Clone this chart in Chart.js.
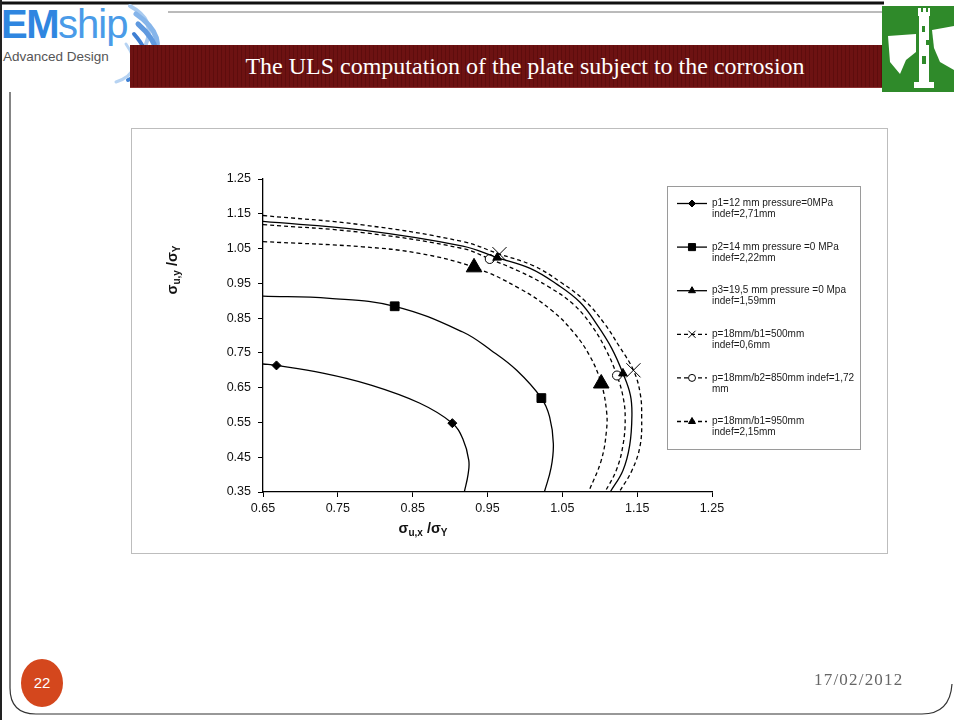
<!DOCTYPE html>
<html>
<head>
<meta charset="utf-8">
<script src="https://cdn.jsdelivr.net/npm/chart.js@4.4.1/dist/chart.umd.min.js"></script>
<style>
  html, body { margin: 0; padding: 0; background: #fff; }
  #page { position: relative; width: 954px; height: 720px; overflow: hidden; font-family: "Liberation Sans", Arial, sans-serif; }
  #deco { position: absolute; left: 0; top: 0; }
  #band { position: absolute; left: 130px; top: 45px; width: 752px; height: 42px;
          background: repeating-linear-gradient(90deg, #6d1212 0px, #6d1212 3px, #5e0d0d 3px, #5e0d0d 4px);
          border-bottom: 1px solid #8a3030; }
  #slideTitle { position: absolute; left: 130px; top: 53px; width: 790px; text-align: center;
          font-family: "Liberation Serif", "Times New Roman", serif; font-size: 24px; color: #fff; white-space: nowrap; }
  #logoText { position: absolute; left: 1px; top: 2px; line-height: 44px; }
  #logoText .em { font-size: 40px; font-weight: bold; color: #2f86e0; letter-spacing: -1.5px; }
  #logoText .ship { font-size: 40px; color: #4a9be8; letter-spacing: -1px; }
  #logoSub { position: absolute; left: 3px; top: 49px; font-size: 13.5px; color: #555; }
  #panel { position: absolute; left: 131px; top: 128px; width: 755px; height: 424px; border: 1px solid #bdbdbd; background: #fff; }
  #chart { position: absolute; left: 0; top: 0; }
  .axTitle { position: absolute; font-weight: bold; font-size: 14.5px; color: #111; white-space: nowrap;
             width: 160px; text-align: center; line-height: 18px; }
  .axTitle sub { font-size: 10px; vertical-align: -3px; }
  #xTitle { left: 343px; top: 519px; }
  #yTitle { left: 92px; top: 261px; transform: rotate(-90deg); transform-origin: 80px 9px; }
  #pageNum { position: absolute; left: 21px; top: 659px; width: 42px; height: 48px; border-radius: 50%;
             background: #d4471d; color: #fff; font-size: 15px; text-align: center; line-height: 48px; }
  #date { position: absolute; left: 814px; top: 670px; font-family: "Liberation Serif", "Times New Roman", serif;
          font-size: 17px; color: #666; letter-spacing: 1.2px; }
</style>
</head>
<body>
<div id="page">
  <svg id="deco" width="954" height="720">
    <!-- slide frame -->
    <line x1="0" y1="3" x2="884" y2="3" stroke="#111" stroke-width="3"/>
    <line x1="168" y1="12" x2="884" y2="12" stroke="#777" stroke-width="1"/>
    <line x1="1" y1="0" x2="1" y2="720" stroke="#222" stroke-width="2"/>
    <path d="M10 92 L10 688 Q10 714 36 714 L922 714 Q950 714 952 684" fill="none" stroke="#333" stroke-width="1.2"/>
    <!-- swoosh of the logo -->
    <g fill="none" stroke-linecap="round">
      <path d="M130 6 Q156 20 146 44" stroke="#a9cbf0" stroke-width="4"/>
      <path d="M136 14 Q168 36 152 62" stroke="#86b5ea" stroke-width="5"/>
      <path d="M138 24 Q170 52 146 74" stroke="#5f99df" stroke-width="5"/>
      <path d="M134 34 Q162 66 128 80" stroke="#3f7fd2" stroke-width="4"/>
      <path d="M126 44 Q146 72 116 82" stroke="#b7d3f2" stroke-width="3"/>
    </g>
    <!-- emblem -->
    <rect x="882" y="6" width="72" height="86" fill="#2f8a2a"/>
    <g fill="#fff">
      <rect x="918" y="12" width="12" height="4"/>
      <rect x="918" y="8" width="3" height="5"/><rect x="923" y="8" width="3" height="5"/><rect x="928" y="8" width="2" height="5"/>
      <rect x="919" y="16" width="10" height="70"/>
      <polygon points="888,36 916,34 916,52 906,60 900,74 890,62"/>
      <polygon points="932,30 954,26 954,70 940,62 934,48"/>
      <rect x="914" y="82" width="20" height="6"/>
    </g>
    <g fill="#2f8a2a">
      <rect x="922" y="26" width="3" height="6"/><rect x="922" y="56" width="4" height="8"/>
      <rect x="926" y="40" width="3" height="5"/>
    </g>
  </svg>
  <div id="band"></div>
  <div id="slideTitle">The ULS computation of the plate subject to the corrosion</div>
  <div id="logoText"><span class="em">EM</span><span class="ship">ship</span></div>
  <div id="logoSub">Advanced Design</div>
  <div id="panel"></div>
  <canvas id="chart" width="954" height="720"></canvas>
  <div id="xTitle" class="axTitle">σ<sub>u,x</sub> /σ<sub>Y</sub></div>
  <div id="yTitle" class="axTitle">σ<sub>u,y</sub> /σ<sub>Y</sub></div>
  <div id="pageNum">22</div>
  <div id="date">17/02/2012</div>
</div>

<script>
// Axis ticks
const xTicks = [0.65, 0.75, 0.85, 0.95, 1.05, 1.15, 1.25];
const yTicks = [0.35, 0.45, 0.55, 0.65, 0.75, 0.85, 0.95, 1.05, 1.15, 1.25];

// Series names (two lines each in the legend)
const seriesLabels = [
  'p1=12 mm pressure=0MPa\nindef=2,71mm',
  'p2=14 mm pressure =0 MPa\nindef=2,22mm',
  'p3=19,5 mm pressure =0 Mpa\nindef=1,59mm',
  'p=18mm/b1=500mm\nindef=0,6mm',
  'p=18mm/b2=850mm indef=1,72\nmm',
  'p=18mm/b1=950mm\nindef=2,15mm'
];

// Ultimate strength interaction curves (σu,x/σY , σu,y/σY); *Marks = indices carrying a marker
const p1X = [0.650, 0.668, 0.730, 0.792, 0.859, 0.903, 0.917, 0.925, 0.924, 0.919];
const p1Y = [0.718, 0.714, 0.692, 0.659, 0.606, 0.548, 0.503, 0.441, 0.400, 0.350];
const p1Marks = [1, 5];

const p2X = [0.650, 0.739, 0.826, 0.917, 0.955, 0.989, 1.022, 1.033, 1.038, 1.035, 1.026];
const p2Y = [0.913, 0.907, 0.884, 0.810, 0.757, 0.700, 0.620, 0.566, 0.489, 0.420, 0.350];
const p2Marks = [2, 6];

const p3X = [0.650, 0.783, 0.917, 0.963, 1.007, 1.043, 1.074, 1.097, 1.116, 1.131, 1.141, 1.143, 1.140, 1.131, 1.114];
const p3Y = [1.128, 1.103, 1.057, 1.024, 0.993, 0.947, 0.895, 0.829, 0.763, 0.691, 0.628, 0.570, 0.484, 0.412, 0.350];
const p3Marks = [3, 9];

const b500X = [0.650, 0.783, 0.917, 0.966, 1.011, 1.048, 1.081, 1.106, 1.126, 1.145, 1.154, 1.156, 1.154, 1.143, 1.126];
const b500Y = [1.145, 1.118, 1.070, 1.034, 1.001, 0.953, 0.898, 0.835, 0.769, 0.700, 0.634, 0.568, 0.484, 0.412, 0.350];
const b500Marks = [3, 9];

const b850X = [0.650, 0.783, 0.917, 0.953, 0.993, 1.031, 1.065, 1.090, 1.109, 1.123, 1.131, 1.134, 1.131, 1.122, 1.107];
const b850Y = [1.119, 1.096, 1.050, 1.020, 0.984, 0.941, 0.889, 0.826, 0.756, 0.685, 0.625, 0.564, 0.484, 0.412, 0.350];
const b850Marks = [3, 9];

const b950X = [0.650, 0.783, 0.859, 0.932, 0.993, 1.036, 1.065, 1.087, 1.102, 1.109, 1.109, 1.102, 1.085];
const b950Y = [1.070, 1.055, 1.036, 0.996, 0.935, 0.872, 0.809, 0.740, 0.662, 0.584, 0.527, 0.441, 0.350];
const b950Marks = [3, 8];

const FONT = '"Liberation Sans", Arial, sans-serif';

function pts(xs, ys) { return xs.map((x, i) => ({ x: x, y: ys[i] })); }
function radii(n, marks, r) { return Array.from({ length: n }, (_, i) => marks.includes(i) ? r : 0); }

function series(i, xs, ys, marks, style, r, legendR, dashed, fill) {
  return {
    label: seriesLabels[i],
    data: pts(xs, ys),
    showLine: true,
    borderColor: '#000',
    borderWidth: 1.3,
    borderDash: dashed ? [4, 3] : [],
    tension: 0.4,
    pointStyle: style,
    pointRadius: radii(xs.length, marks, r),
    pointHoverRadius: 0,
    pointBackgroundColor: fill,
    pointBorderColor: '#000',
    pointBorderWidth: 1,
    legendRadius: legendR
  };
}

const datasets = [
  series(0, p1X, p1Y, p1Marks, 'rectRot', 4.5, 3.5, false, '#000'),
  series(1, p2X, p2Y, p2Marks, 'rect', 6.2, 5, false, '#000'),
  series(2, p3X, p3Y, p3Marks, 'triangle', 5, 4, false, '#000'),
  series(3, b500X, b500Y, b500Marks, 'crossRot', 10, 5, true, '#000'),
  series(4, b850X, b850Y, b850Marks, 'circle', 4.5, 3.5, true, '#fff'),
  series(5, b950X, b950Y, b950Marks, 'triangle', 9, 4, true, '#000')
];

// Boxed legend with line samples and markers, drawn on the canvas
const boxLegend = {
  id: 'boxLegend',
  afterDraw(chart) {
    const ctx = chart.ctx;
    const box = { x: 667.5, y: 186.5, w: 193, h: 263 };
    ctx.save();
    ctx.strokeStyle = '#9a9a9a';
    ctx.lineWidth = 1;
    ctx.strokeRect(box.x, box.y, box.w, box.h);
    chart.data.datasets.forEach((ds, i) => {
      const y = 203.5 + i * 43.6;
      ctx.strokeStyle = '#000';
      ctx.lineWidth = 1.3;
      ctx.setLineDash(ds.borderDash);
      ctx.beginPath();
      ctx.moveTo(677, y);
      ctx.lineTo(707, y);
      ctx.stroke();
      ctx.setLineDash([]);
      ctx.fillStyle = ds.pointBackgroundColor;
      ctx.strokeStyle = '#000';
      ctx.lineWidth = 1;
      Chart.helpers.drawPoint(ctx, { pointStyle: ds.pointStyle, rotation: 0, radius: ds.legendRadius, borderWidth: 1 }, 692, y);
      ctx.fillStyle = '#1a1a1a';
      ctx.font = '10px ' + FONT;
      ctx.textBaseline = 'middle';
      ctx.textAlign = 'left';
      ds.label.split('\n').forEach((line, k) => ctx.fillText(line, 712, y + k * 11));
    });
    ctx.restore();
  }
};

new Chart(document.getElementById('chart'), {
  type: 'scatter',
  data: { datasets: datasets },
  plugins: [boxLegend],
  options: {
    responsive: false,
    animation: false,
    events: [],
    layout: { padding: { top: 179, right: 242, bottom: 0, left: 0 } },
    plugins: { legend: { display: false }, tooltip: { enabled: false } },
    scales: {
      x: {
        type: 'linear', min: 0.65, max: 1.25,
        afterBuildTicks: s => { s.ticks = xTicks.map(v => ({ value: v })); },
        afterFit: s => { s.height = 228; },
        ticks: { callback: v => Number(v).toFixed(2), font: { family: FONT, size: 12.5 }, color: '#111', padding: 4, maxRotation: 0, autoSkip: false },
        grid: { drawOnChartArea: false, drawTicks: true, tickLength: 5, color: '#000', lineWidth: 1 },
        border: { display: true, color: '#000', width: 1.3 }
      },
      y: {
        type: 'linear', min: 0.35, max: 1.25,
        afterBuildTicks: s => { s.ticks = yTicks.map(v => ({ value: v })); },
        afterFit: s => { s.width = 263; },
        ticks: { callback: v => Number(v).toFixed(2), font: { family: FONT, size: 12.5 }, color: '#111', padding: 7, autoSkip: false },
        grid: { drawOnChartArea: false, drawTicks: true, tickLength: 5, color: '#000', lineWidth: 1 },
        border: { display: true, color: '#000', width: 1.3 }
      }
    }
  }
});
</script>
</body>
</html>
